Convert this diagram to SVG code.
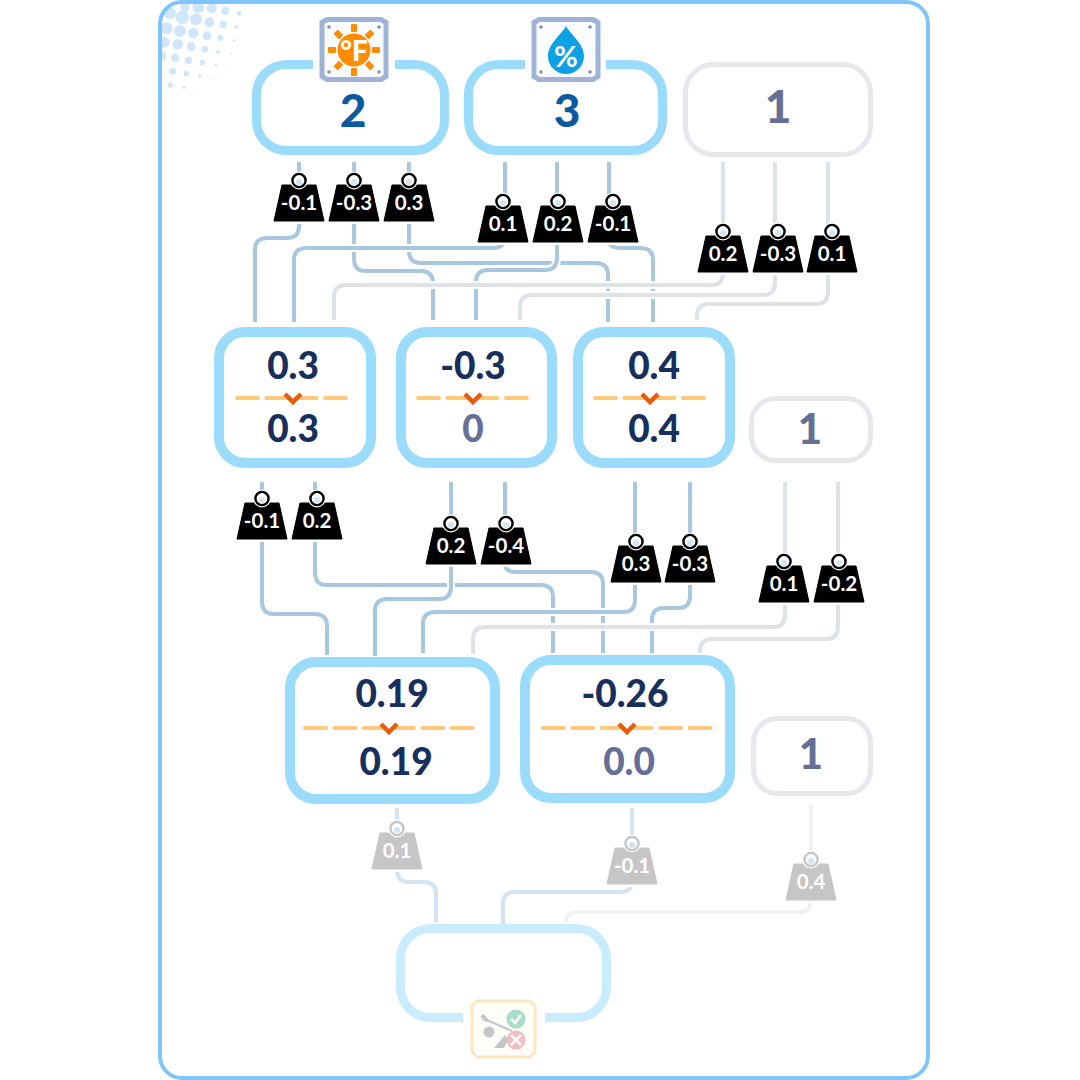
<svg xmlns="http://www.w3.org/2000/svg" width="1080" height="1080" viewBox="0 0 1080 1080">
<style>
text{font-family:"Lato","Liberation Sans",sans-serif;font-weight:700;text-anchor:middle}
.c path{fill:none}
.h{stroke:#fff;stroke-width:8}
.b{stroke:#a9c8df;stroke-width:4}
.g{stroke:#dfe2e6;stroke-width:4}
.b3{stroke:#d3e3ef;stroke-width:4}
.g3{stroke:#f0f1f3;stroke-width:4}
.box{fill:#fff;stroke:#9bdcfd;stroke-width:10}
.top{fill:#fff;stroke:#9bdcfd;stroke-width:9}
.off{fill:#fff;stroke:#e6e8eb;stroke-width:5}
.big{font-size:46px;fill:#0b5a9f;font-weight:900}
.n{font-size:37px;fill:#172f5c;font-weight:900}
.m{fill:#667096}
.wt{font-size:20.500px;fill:#fff}
.dash{fill:none;stroke:#ffc97c;stroke-width:4;stroke-linecap:round;stroke-dasharray:21 8.3}
.chev{fill:none;stroke:#e85d0c;stroke-width:4.5}
.plate{fill:#fbfcff;stroke:#9fb3d6;stroke-width:5}
.dot{fill:#8592b5}
.ray{fill:#ff8c00}
</style>
<defs>
<clipPath id="fr"><rect x="160" y="2" width="768" height="1076" rx="22"/></clipPath>
<g id="w">
<path d="M-17-36H17L25 0H-25Z" fill="currentColor" stroke="#fff" stroke-width="6"/>
<path d="M-17-36H17L25 0H-25Z" fill="currentColor" stroke="currentColor" stroke-width="1" stroke-linejoin="round"/>
<circle cy="-40.500" r="9" fill="#fff"/>
<circle cy="-40.500" r="6.600" fill="#fff" stroke="currentColor" stroke-width="2.400"/>
<circle cy="-39" r="3" fill="#d5e3ee"/>
</g>
<path id="pl" d="M-32-27-27-30H27L32-27V27L27 30H-27L-32 27Z"/>
</defs>
<rect x="160" y="2" width="768" height="1076" rx="22" fill="#fff"/>
<g clip-path="url(#fr)"><g transform="translate(150,0) scale(.3333)" fill="#cfe6fb">
<circle cx="60" cy="40" r="18"/><circle cx="105" cy="22" r="14"/><circle cx="145" cy="22" r="18"/><circle cx="185" cy="25" r="15"/><circle cx="226" cy="33" r="12"/><circle cx="267" cy="40" r="7"/>
<circle cx="97" cy="52" r="20"/><circle cx="138" cy="58" r="18"/><circle cx="178" cy="67" r="15"/><circle cx="219" cy="73" r="11"/><circle cx="259" cy="81" r="6"/>
<circle cx="50" cy="85" r="18"/><circle cx="90" cy="93" r="18"/><circle cx="130" cy="99" r="16"/><circle cx="171" cy="107" r="13"/><circle cx="211" cy="114" r="9"/><circle cx="252" cy="122" r="4"/>
<circle cx="42" cy="127" r="17"/><circle cx="83" cy="133" r="16"/><circle cx="124" cy="140" r="13"/><circle cx="164" cy="148" r="10"/><circle cx="204" cy="155" r="6"/><circle cx="244" cy="161" r="3"/>
<circle cx="35" cy="167" r="14"/><circle cx="76" cy="174" r="13"/><circle cx="116" cy="181" r="11"/><circle cx="157" cy="188" r="8"/><circle cx="197" cy="195" r="4"/><circle cx="238" cy="200" r="1.500"/>
<circle cx="28" cy="208" r="8"/><circle cx="68" cy="214" r="10"/><circle cx="109" cy="221" r="8"/><circle cx="149" cy="228" r="5"/><circle cx="189" cy="236" r="2"/>
<circle cx="61" cy="255" r="8"/><circle cx="102" cy="262" r="5"/><circle cx="142" cy="267" r="2"/>
</g></g>
<rect x="160" y="2" width="768" height="1076" rx="22" fill="none" stroke="#7fc4fb" stroke-width="4"/>

<g id="connectors" class="c">
<path class="h" d="M299 162V226Q299 238 287 238H267Q255 238 255 250V322"/><path class="b" d="M299 162V226Q299 238 287 238H267Q255 238 255 250V322"/>
<path class="h" d="M354 162V259Q354 271 366 271H421Q433 271 433 283V320"/><path class="b" d="M354 162V259Q354 271 366 271H421Q433 271 433 283V320"/>
<path class="h" d="M409 162V251Q409 263 421 263H596Q608 263 608 275V322"/><path class="b" d="M409 162V251Q409 263 421 263H596Q608 263 608 275V322"/>
<path class="h" d="M505 162V236Q505 248 493 248H306Q294 248 294 260V322"/><path class="b" d="M505 162V236Q505 248 493 248H306Q294 248 294 260V322"/>
<path class="h" d="M557 162V258Q557 270 545 270H488Q476 270 476 282V320"/><path class="b" d="M557 162V258Q557 270 545 270H488Q476 270 476 282V320"/>
<path class="h" d="M609 162V243Q611 248 620 248H641Q653 248 653 260V322"/><path class="b" d="M609 162V243Q611 248 620 248H641Q653 248 653 260V322"/>
<path class="h" d="M723 162V273Q723 285 711 285H346Q334 285 334 297V320"/><path class="g" d="M723 162V273Q723 285 711 285H346Q334 285 334 297V320"/>
<path class="h" d="M775 162V283Q775 295 763 295H532Q520 295 520 307V320"/><path class="g" d="M775 162V283Q775 295 763 295H532Q520 295 520 307V320"/>
<path class="h" d="M828 162V292Q828 304 816 304H709Q697 304 697 316V320"/><path class="g" d="M828 162V292Q828 304 816 304H709Q697 304 697 316V320"/>

<path class="h" d="M262 482V602Q262 614 274 614H315Q327 614 327 626V655"/><path class="b" d="M262 482V602Q262 614 274 614H315Q327 614 327 626V655"/>
<path class="h" d="M315 482V573Q315 585 327 585H541Q553 585 553 597V653"/><path class="b" d="M315 482V573Q315 585 327 585H541Q553 585 553 597V653"/>
<path class="h" d="M505 482V566Q507 572 516 572H591Q603 572 603 584V653"/><path class="b" d="M505 482V566Q507 572 516 572H591Q603 572 603 584V653"/>
<path class="h" d="M451 482V587Q451 599 439 599H387Q375 599 375 611V656"/><path class="b" d="M451 482V587Q451 599 439 599H387Q375 599 375 611V656"/>
<path class="h" d="M635 482V600Q635 612 623 612H435Q423 612 423 624V653"/><path class="b" d="M635 482V600Q635 612 623 612H435Q423 612 423 624V653"/>
<path class="h" d="M690 482V596Q690 608 678 608H664Q652 608 652 620V653"/><path class="b" d="M690 482V596Q690 608 678 608H664Q652 608 652 620V653"/>
<path class="h" d="M785 482V615Q785 627 773 627H485Q473 627 473 639V654"/><path class="g" d="M785 482V615Q785 627 773 627H485Q473 627 473 639V654"/>
<path class="h" d="M838 482V627Q838 639 826 639H712Q700 639 700 651V653"/><path class="g" d="M838 482V627Q838 639 826 639H712Q700 639 700 651V653"/>

<path class="b3" d="M397 808V870Q397 882 409 882H424Q436 882 436 894V922"/>
<path class="b3" d="M632 808V880Q632 892 620 892H515Q503 892 503 904V924"/>
<path class="g3" d="M811 805V900Q811 912 799 912H578Q566 912 566 922"/>
</g>

<g id="weights">
<g id="w1" color="#000"><use href="#w" x="299" y="221"/><text class="wt" x="299" y="210">-0.1</text></g>
<g id="w2" color="#000"><use href="#w" x="354" y="221"/><text class="wt" x="354" y="210">-0.3</text></g>
<g id="w3" color="#000"><use href="#w" x="409" y="221"/><text class="wt" x="409" y="210">0.3</text></g>
<g id="w4" color="#000"><use href="#w" x="503" y="242"/><text class="wt" x="503" y="231">0.1</text></g>
<g id="w5" color="#000"><use href="#w" x="558" y="242"/><text class="wt" x="558" y="231">0.2</text></g>
<g id="w6" color="#000"><use href="#w" x="613" y="242"/><text class="wt" x="613" y="231">-0.1</text></g>
<g id="w7" color="#000"><use href="#w" x="723" y="272"/><text class="wt" x="723" y="261">0.2</text></g>
<g id="w8" color="#000"><use href="#w" x="778" y="272"/><text class="wt" x="778" y="261">-0.3</text></g>
<g id="w9" color="#000"><use href="#w" x="832" y="272"/><text class="wt" x="832" y="261">0.1</text></g>
<g id="w10" color="#000"><use href="#w" x="262" y="539"/><text class="wt" x="262" y="528">-0.1</text></g>
<g id="w11" color="#000"><use href="#w" x="317" y="539"/><text class="wt" x="317" y="528">0.2</text></g>
<g id="w12" color="#000"><use href="#w" x="451" y="564"/><text class="wt" x="451" y="553">0.2</text></g>
<g id="w13" color="#000"><use href="#w" x="506" y="564"/><text class="wt" x="506" y="553">-0.4</text></g>
<g id="w14" color="#000"><use href="#w" x="636" y="582"/><text class="wt" x="636" y="571">0.3</text></g>
<g id="w15" color="#000"><use href="#w" x="690" y="582"/><text class="wt" x="690" y="571">-0.3</text></g>
<g id="w16" color="#000"><use href="#w" x="784" y="602"/><text class="wt" x="784" y="591">0.1</text></g>
<g id="w17" color="#000"><use href="#w" x="839" y="602"/><text class="wt" x="839" y="591">-0.2</text></g>
<g id="w18" color="#c6c6c6"><use href="#w" x="397" y="869"/><text class="wt" x="397" y="858">0.1</text></g>
<g id="w19" color="#c6c6c6"><use href="#w" x="632" y="884"/><text class="wt" x="632" y="873">-0.1</text></g>
<g id="w20" color="#c6c6c6"><use href="#w" x="811" y="900"/><text class="wt" x="811" y="889">0.4</text></g>
</g>

<g id="input-temp">
<rect class="top" x="256.500" y="64.500" width="188" height="86" rx="30"/>
<rect x="313" y="55" width="82" height="20" fill="#fff"/>
<use href="#pl" class="plate" transform="translate(354,49.500)"/>
<circle class="dot" cx="329" cy="27" r="1.800"/><circle class="dot" cx="379" cy="27" r="1.800"/><circle class="dot" cx="329" cy="72" r="1.800"/><circle class="dot" cx="379" cy="72" r="1.800"/>
<circle cx="354" cy="50" r="16.500" fill="#ff8c00"/>
<g class="ray"><rect x="351" y="24" width="6" height="8" rx="1"/><rect x="351" y="68" width="6" height="8" rx="1"/><rect x="328" y="47" width="8" height="6" rx="1"/><rect x="372" y="47" width="8" height="6" rx="1"/>
<rect x="351" y="24" width="6" height="8" rx="1" transform="rotate(45 354 50)"/><rect x="351" y="24" width="6" height="8" rx="1" transform="rotate(135 354 50)"/><rect x="351" y="24" width="6" height="8" rx="1" transform="rotate(225 354 50)"/><rect x="351" y="24" width="6" height="8" rx="1" transform="rotate(315 354 50)"/></g>
<text x="354" y="61" font-size="28" fill="#fff" style="font-weight:900">°F</text>
<text class="big" x="353" y="127">2</text>
</g>
<g id="input-humidity">
<rect class="top" x="468.500" y="64.500" width="194" height="86" rx="30"/>
<rect x="525" y="55" width="81" height="20" fill="#fff"/>
<use href="#pl" class="plate" transform="translate(566,49.500)"/>
<circle class="dot" cx="541" cy="27" r="1.800"/><circle class="dot" cx="590" cy="27" r="1.800"/><circle class="dot" cx="541" cy="72" r="1.800"/><circle class="dot" cx="590" cy="72" r="1.800"/>
<path d="M566 26C571 35 584 44 584 56A18 18 0 0 1 548 56C548 44 561 35 566 26Z" fill="#0ca1e3"/>
<text x="566" y="67" font-size="29" fill="#fff">%</text>
<text class="big" x="567" y="127">3</text>
</g>
<g id="bias1">
<rect class="off" x="685.500" y="64.500" width="185" height="90" rx="28"/>
<text class="big m" x="778" y="123">1</text>
</g>

<g id="n1"><rect class="box" x="219" y="332" width="152" height="131" rx="26"/>
<text class="n" x="293" y="379">0.3</text><path class="dash" d="M237 398H349"/><path class="chev" d="M285 394L293 402L301 394"/><text class="n" x="293" y="442">0.3</text></g>
<g id="n2"><rect class="box" x="401" y="332" width="151" height="131" rx="26"/>
<text class="n" x="473" y="379">-0.3</text><path class="dash" d="M418 398H530"/><path class="chev" d="M465 394L473 402L481 394"/><text class="n m" x="473" y="442">0</text></g>
<g id="n3"><rect class="box" x="578" y="332" width="152" height="131" rx="26"/>
<text class="n" x="654" y="379">0.4</text><path class="dash" d="M595 398H707"/><path class="chev" d="M642 394L650 402L658 394"/><text class="n" x="654" y="442">0.4</text></g>
<g id="bias2">
<rect class="off" x="751.500" y="398.500" width="119" height="62" rx="24"/>
<text class="big m" x="810" y="444" style="font-size:42px">1</text>
</g>

<g id="n4"><rect class="box" x="290" y="662" width="205" height="137" rx="26"/>
<text class="n" x="392" y="707">0.19</text><path class="dash" d="M305 728H475"/><path class="chev" d="M381 724L389 732L397 724"/><text class="n" x="396" y="775">0.19</text></g>
<g id="n5"><rect class="box" x="525" y="660" width="205" height="138" rx="26"/>
<text class="n" x="625" y="707">-0.26</text><path class="dash" d="M543 728H714"/><path class="chev" d="M619 724L627 732L635 724"/><text class="n m" x="629" y="775">0.0</text></g>
<g id="bias3">
<rect class="off" x="753.500" y="718.500" width="117" height="75" rx="24"/>
<text class="big m" x="811" y="769" style="font-size:42px">1</text>
</g>

<g id="output">
<rect x="400.500" y="928.500" width="206" height="89" rx="30" fill="#fff" stroke="#c9edfe" stroke-width="9"/>
<rect x="463" y="1010" width="82" height="14" fill="#fff"/>
<path d="M477 1001H530L535 1006V1052L530 1057H477L472 1052V1006Z" fill="#fffdf8" stroke="#fbe7c0" stroke-width="3"/>
<circle cx="516" cy="1019" r="9.500" fill="#a9dccb"/>
<path d="M511 1019L515 1023L521 1015" fill="none" stroke="#fff" stroke-width="2.500"/>
<circle cx="516" cy="1040" r="9.500" fill="#f2bcc0"/>
<path d="M511 1035L521 1045M521 1035L511 1045" fill="none" stroke="#fff" stroke-width="2.500"/>
<circle cx="489" cy="1032" r="5.500" fill="#c2c6ca"/>
<path d="M482 1018L512 1031" fill="none" stroke="#c2c6ca" stroke-width="2"/>
<path d="M482 1015L487 1021" fill="none" stroke="#c2c6ca" stroke-width="4"/>
<path d="M494 1048L505 1035L508 1040L504 1048Z" fill="#c2c6ca"/>
</g>
</svg>
